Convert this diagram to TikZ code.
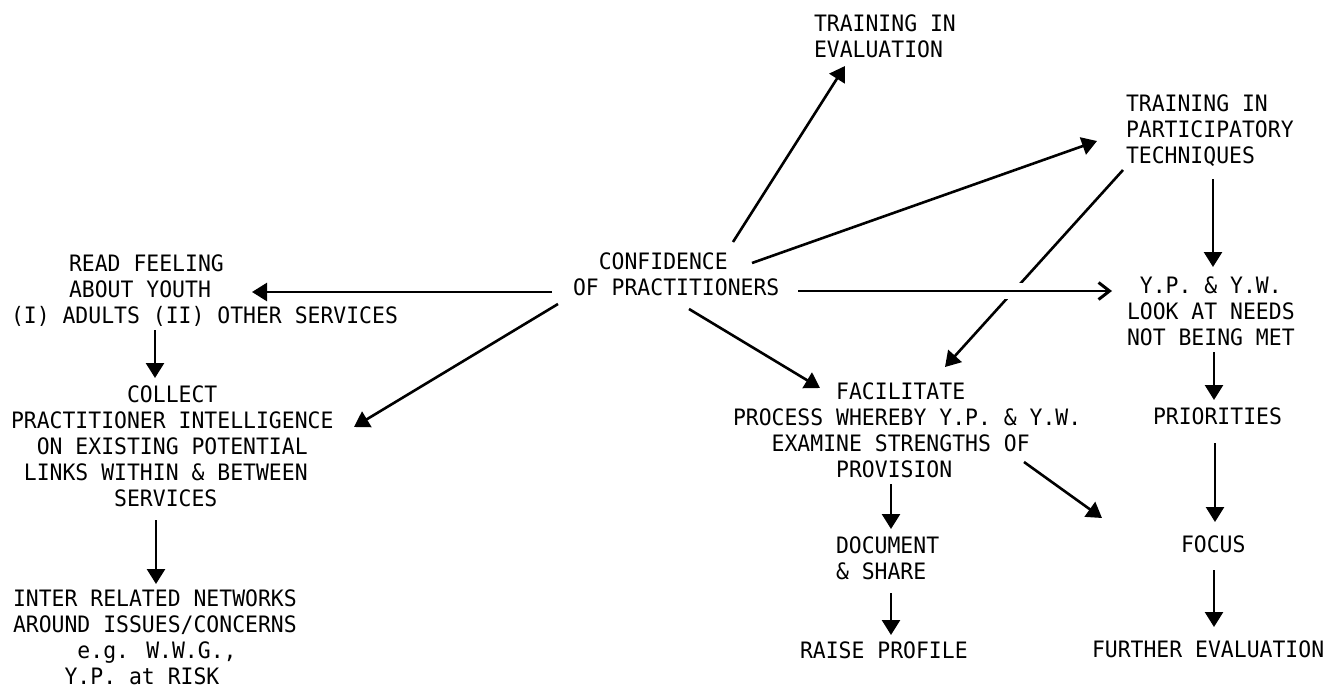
\documentclass[tikz,border=0pt]{standalone}
\usepackage{fontspec}
\newfontfamily\tw[FakeStretch=0.948]{DejaVu Sans Mono}
\usetikzlibrary{arrows.meta}
% indent a line by a number of typewriter character cells
\newcommand\ind[1]{\hspace*{#1\fontcharwd\font`X}}
\begin{document}
\begin{tikzpicture}[x=0.5pt,y=-0.5pt,
  lbl/.style={anchor=north west, inner sep=0pt, outer sep=0pt, align=left,
              font=\tw\fontsize{11.3}{13}\selectfont},
  arr/.style={-{Triangle[length=7.5pt,width=9pt]}, line width=1.3pt},
  barb/.style={-{Straight Barb[length=5.5pt,width=8.5pt,line width=1.5pt]}, line width=1.3pt},
  halo/.style={white, line width=8pt}]
\useasboundingbox (0,0) rectangle (1324,691);

% text blocks
\node[lbl] (conf) at (573,253) {\ind{2}CONFIDENCE\\OF PRACTITIONERS};
\node[lbl] (read) at (11,255) {\ind{4.5}READ FEELING\\\ind{4.5}ABOUT YOUTH\\(I) ADULTS (II) OTHER SERVICES};
\node[lbl] (collect) at (11,386) {\ind{9}COLLECT\\PRACTITIONER INTELLIGENCE\\\ind{2}ON EXISTING POTENTIAL\\\ind{1}LINKS WITHIN \& BETWEEN\\\ind{8}SERVICES};
\node[lbl, text depth=0pt] (inter) at (13,590) {INTER RELATED NETWORKS\\AROUND ISSUES/CONCERNS\\\ind{5}e.g. W.W.G.,\\\ind{4}Y.P. at RISK};
\node[lbl] (tev) at (814,15) {TRAINING IN\\EVALUATION};
\node[lbl] (tpt) at (1126,95) {TRAINING IN\\PARTICIPATORY\\TECHNIQUES};
\node[lbl] (fac) at (733,383) {\ind{8}FACILITATE\\PROCESS WHEREBY Y.P. \& Y.W.\\\ind{3}EXAMINE STRENGTHS OF\\\ind{8}PROVISION};
\node[lbl] (yp) at (1127,277) {\ind{1}Y.P. \& Y.W.\\LOOK AT NEEDS\\NOT BEING MET};
\node[lbl] (pri) at (1153,408) {PRIORITIES};
\node[lbl] (focus) at (1181,536) {FOCUS};
\node[lbl] (further) at (1092,641) {FURTHER EVALUATION};
\node[lbl] (doc) at (836,537) {DOCUMENT\\\& SHARE};
\node[lbl] (raise) at (800,642) {RAISE PROFILE};

% connectors from the centre
\draw[arr] ([shift={(-21,39)}]conf.north west) -- ([shift={(241,37)}]read.north west);
\draw[arr] ([shift={(-15,51)}]conf.north west) -- ([shift={(343,41)}]collect.north west);
\draw[arr] ([shift={(160,-11)}]conf.north west) -- ([shift={(31,51)}]tev.north west);
\draw[arr] ([shift={(179,10)}]conf.north west) -- ([shift={(-29,46)}]tpt.north west);
\draw[arr] ([shift={(116,56)}]conf.north west) -- ([shift={(87,5)}]fac.north west);

% diagonal broken where the horizontal arrow crosses it
\draw[arr] ([shift={(-3,75)}]tpt.north west) -- ([shift={(212,-16)}]fac.north west);
\draw[halo] ([shift={(422,38)}]conf.north west) -- ([shift={(462,38)}]conf.north west);
\draw[barb] ([shift={(225,38)}]conf.north west) -- ([shift={(-15,14)}]yp.north west);

% right-hand column
\draw[arr] ([shift={(87,84)}]tpt.north west) -- ([shift={(86,-10)}]yp.north west);
\draw[arr] ([shift={(87,75)}]yp.north west) -- ([shift={(61,-8)}]pri.north west);
\draw[arr] ([shift={(62,35)}]pri.north west) -- ([shift={(34,-14)}]focus.north west);
\draw[arr] ([shift={(33,34)}]focus.north west) -- ([shift={(122,-14)}]further.north west);

% middle column
\draw[arr] ([shift={(291,79)}]fac.north west) -- ([shift={(-79,-18)}]focus.north west);
\draw[arr] ([shift={(158,101)}]fac.north west) -- ([shift={(55,-8)}]doc.north west);
\draw[arr] ([shift={(55,56)}]doc.north west) -- ([shift={(91,-7)}]raise.north west);

% left-hand column
\draw[arr] ([shift={(144,75)}]read.north west) -- ([shift={(144,-8)}]collect.north west);
\draw[arr] ([shift={(145,134)}]collect.north west) -- ([shift={(143,-6)}]inter.north west);
\end{tikzpicture}
\end{document}
